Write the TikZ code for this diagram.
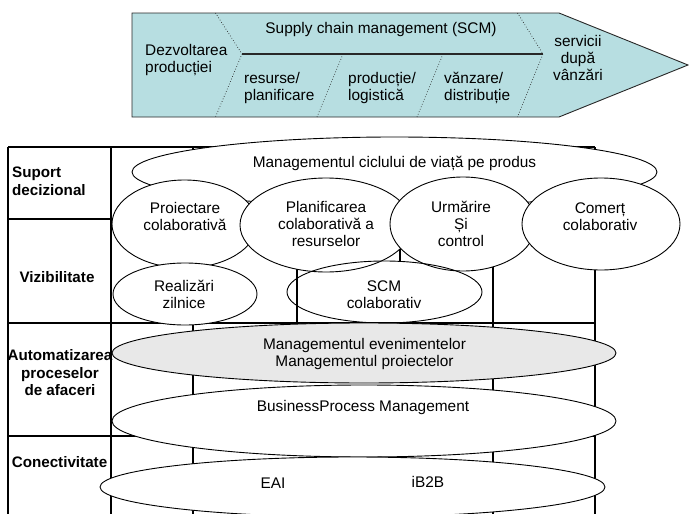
\documentclass[tikz,border=0pt]{standalone}
\usepackage{fontspec}
\setmainfont{Liberation Sans}
\usetikzlibrary{shapes.geometric}
\definecolor{teal1}{RGB}{183,222,225}
\definecolor{gray1}{RGB}{232,232,232}
\definecolor{edge1}{RGB}{40,40,40}
\tikzset{
  txt/.style={font=\fontsize{15.4}{17}\selectfont, inner sep=0pt, align=center},
  txtl/.style={font=\fontsize{15.4}{16.5}\selectfont, inner sep=0pt, align=left, anchor=west},
  lab/.style={font=\bfseries\fontsize{15.2}{17.5}\selectfont, inner sep=0pt, align=center},
  ell/.style={ellipse, draw=black, line width=0.9pt, fill=white, inner sep=0pt},
  grid/.style={draw=black, line width=1.1pt},
  dotsep/.style={draw=edge1, dotted, line width=0.7pt},
}
\begin{document}
\begin{tikzpicture}[x=1pt,y=-1pt]
\useasboundingbox (0,0) rectangle (689,514);
% ---------- top value-chain arrow ----------
\coordinate (a1) at (132,13);
\coordinate (a2) at (559,13);
\coordinate (a3) at (688,65);
\coordinate (a4) at (559,117);
\coordinate (a5) at (132,117);
\draw[fill=teal1, draw=edge1, line width=0.9pt] (a1) -- (a2) -- (a3) -- (a4) -- (a5) -- cycle;
\coordinate (c1t) at (215.5,13); \coordinate (c1m) at (242,54); \coordinate (c1b) at (215.5,117);
\coordinate (c2t) at (517.5,13); \coordinate (c2m) at (543,54); \coordinate (c2b) at (517.5,117);
\coordinate (d1t) at (343,54); \coordinate (d1b) at (317,117);
\coordinate (d2t) at (443,54); \coordinate (d2b) at (417,117);
\draw[dotsep] (c1t) -- (c1m) -- (c1b);
\draw[dotsep] (c2t) -- (c2m) -- (c2b);
\draw[dotsep] (d1t) -- (d1b);
\draw[dotsep] (d2t) -- (d2b);
\draw[draw=edge1, line width=1.5pt] (c1m) -- (c2m);
\node[txtl] (dez) at (145,60) {Dezvoltarea\\producției};
\node[txt] (scm) at (381,30) {Supply chain management (SCM)};
\node[txtl] (res) at (244,88) {resurse/\\planificare};
\node[txtl] (prod) at (348,88) {producție/\\logistică};
\node[txtl] (vanz) at (444,88) {vănzare/\\distribuție};
\node[txt] (serv) at (578,58) {servicii\\după\\vânzări};
% ---------- grid ----------
\draw[grid] (8,147) -- (595,147);
\draw[grid] (8,219) -- (111,219);
\draw[grid] (8,323) -- (595,323);
\draw[grid] (8,436) -- (595,436);
\draw[grid] (8,147) -- (8,514);
\draw[grid] (111,147) -- (111,514);
\draw[grid] (193,147) -- (193,514);
\draw[grid] (297,147) -- (297,323);
\draw[grid] (400,147) -- (400,262);
\draw[grid] (493,147) -- (493,514);
\draw[grid] (595,147) -- (595,514);
% ---------- ellipses ----------
\node[ell, minimum width=525pt, minimum height=70pt] (plm) at (394.5,172) {};
\node[txt] (plmt) at (394.5,163) {Managementul ciclului de viață pe produs};
\node[ell, minimum width=145pt, minimum height=88pt] (pro) at (184.5,224) {};
\node[txt] (prot) at (185,216) {Proiectare\\colaborativă};
\node[ell, minimum width=172pt, minimum height=94pt] (pla) at (326,225) {};
\node[txt] (plat) at (326,224) {Planificarea\\colaborativă a\\resurselor};
\node[ell, minimum width=146pt, minimum height=94pt] (urm) at (463,224) {};
\node[txt] (urmt) at (461,224) {Urmărire\\Și\\control};
\node[ell, minimum width=158pt, minimum height=92pt] (com) at (601,224) {};
\node[txt] (comt) at (600,216.5) {Comerț\\colaborativ};
\node[ell, minimum width=144pt, minimum height=62pt] (rea) at (185,294) {};
\node[txt] (reat) at (184,294) {Realizări\\zilnice};
\node[ell, fill=none, minimum width=195pt, minimum height=62pt] (scmc) at (384.5,292) {};
\node[txt] (scmct) at (384,295) {SCM\\colaborativ};
\node[ell, fill=gray1, minimum width=504pt, minimum height=60pt] (evt) at (364,353) {};
\node[txt] (evtt) at (364.5,354.5) {Managementul evenimentelor\\Managementul proiectelor};
\node[ell, minimum width=504pt, minimum height=72pt] (bpm) at (364,421) {};
\node[txt] (bpmt) at (363,408) {BusinessProcess Management};
\node[ell, minimum width=505pt, minimum height=60pt] (eai) at (352.5,487) {};
\node[txt] (eait) at (273,483) {EAI};
\node[txt] (b2bt) at (428,482) {iB2B};
% ---------- row labels ----------
\node[lab, align=left, anchor=west] (sup) at (12,181.5) {Suport\\decizional};
\node[lab] (viz) at (57,277) {Vizibilitate};
\node[lab] (aut) at (60,373) {Automatizarea\\proceselor\\de afaceri};
\node[lab] (con) at (59.5,462) {Conectivitate};
\end{tikzpicture}
\end{document}
